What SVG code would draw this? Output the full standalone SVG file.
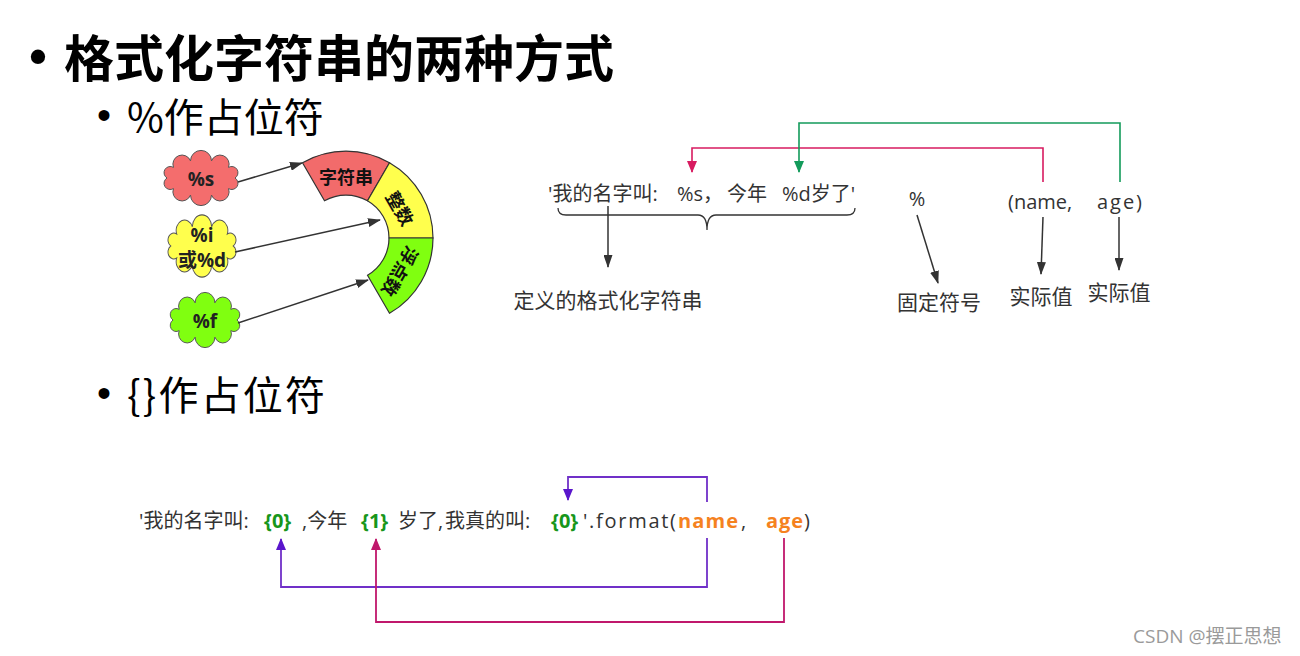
<svg xmlns="http://www.w3.org/2000/svg" width="1300" height="656" viewBox="0 0 1300 656">
<style>
text{font-family:"Open Sans","Noto Sans CJK SC",sans-serif;dominant-baseline:central}
.title{font-size:50px;font-weight:bold;fill:#000;font-family:"Noto Sans CJK SC",sans-serif}
.sub{font-size:40px;fill:#000;font-family:"Noto Sans CJK SC",sans-serif}
.bul{font-family:"Liberation Sans",sans-serif}
.cl{stroke:#555;stroke-width:1;vector-effect:non-scaling-stroke}
.ctext{font-size:19px;font-weight:bold;fill:#222;text-anchor:middle}
.seg{stroke:#333;stroke-width:1.2}
.stext{font-size:18px;font-weight:bold;fill:#111;text-anchor:middle;font-family:"Noto Sans CJK SC",sans-serif}
.code{font-size:20px;fill:#333}
.lbl{font-size:21px;fill:#333;text-anchor:middle}
.g{fill:#17961b;font-weight:bold}
.o{fill:#f5821f;font-weight:bold}
.dk{fill:none;stroke:#333;stroke-width:1.5}
.wm{font-size:19px;fill:#9a9a9a}
</style>
<defs>
<path id="cloud" d="M34 0 A1 1 0 0 1 27.5 10.6 A1 1 0 0 1 10.5 17.1 A1 1 0 0 1 -10.5 17.1 A1 1 0 0 1 -27.5 10.6 A1 1 0 0 1 -34 0 A1 1 0 0 1 -27.5 -10.6 A1 1 0 0 1 -10.5 -17.1 A1 1 0 0 1 10.5 -17.1 A1 1 0 0 1 27.5 -10.6 A1 1 0 0 1 34 0 Z"/>
<marker id="ad" markerUnits="userSpaceOnUse" markerWidth="13" markerHeight="9" refX="12" refY="4.5" orient="auto"><path d="M0 0 L13 4.5 L0 9 z" fill="#333"/></marker>
<marker id="ar" markerUnits="userSpaceOnUse" markerWidth="12" markerHeight="10" refX="11" refY="5" orient="auto"><path d="M0 0 L12 5 L0 10 z" fill="#d81b60"/></marker>
<marker id="ag" markerUnits="userSpaceOnUse" markerWidth="12" markerHeight="10" refX="11" refY="5" orient="auto"><path d="M0 0 L12 5 L0 10 z" fill="#139b5b"/></marker>
<marker id="ap" markerUnits="userSpaceOnUse" markerWidth="12" markerHeight="10" refX="11" refY="5" orient="auto"><path d="M0 0 L12 5 L0 10 z" fill="#5a16cc"/></marker>
<marker id="am" markerUnits="userSpaceOnUse" markerWidth="12" markerHeight="10" refX="11" refY="5" orient="auto"><path d="M0 0 L12 5 L0 10 z" fill="#c0186c"/></marker>
</defs>
<rect width="1300" height="656" fill="#fff"/>

<g id="headings">
<text class="title bul" x="38" y="56" text-anchor="middle" font-size="44">•</text>
<text class="title" x="64" y="55">格式化字符串的两种方式</text>
<text class="sub bul" x="104" y="115" text-anchor="middle" font-size="34">•</text>
<text class="sub" x="127" y="115">%作占位符</text>
<text class="sub bul" x="104" y="393" text-anchor="middle" font-size="34">•</text>
<text class="sub" x="127" y="393" textLength="198" lengthAdjust="spacing">{}作占位符</text>
</g>

<g id="cloud-s">
<use href="#cloud" class="cl" fill="#f46d6d" transform="translate(201,178)"/>
<text class="ctext" x="201" y="179">%s</text>
</g>
<g id="cloud-d">
<use href="#cloud" class="cl" fill="#ffff4d" transform="translate(202,246) scale(0.92,1.13)"/>
<text class="ctext" x="202" y="235">%i</text>
<text class="ctext" x="202" y="260">或%d</text>
</g>
<g id="cloud-f">
<use href="#cloud" class="cl" fill="#80ff10" transform="translate(205,320) scale(0.94,1)"/>
<text class="ctext" x="205" y="321">%f</text>
</g>

<g id="seg-str">
<path class="seg" fill="#f26b6b" d="M302.5 162.7 A87 87 0 0 1 389.5 162.7 L367.5 200.8 A43 43 0 0 0 324.5 200.8 Z"/>
<text class="stext" x="346" y="176">字符串</text>
</g>
<g id="seg-int">
<path class="seg" fill="#ffff4d" d="M389.5 162.7 A87 87 0 0 1 433 238 L389 238 A43 43 0 0 0 367.5 200.8 Z"/>
<text class="stext" transform="translate(401,208) rotate(60)" x="0" y="0">整数</text>
</g>
<g id="seg-float">
<path class="seg" fill="#80ff10" d="M433 238 A87 87 0 0 1 389.5 313.3 L367.5 275.2 A43 43 0 0 0 389 238 Z"/>
<text class="stext" transform="translate(401,272) rotate(120)" x="0" y="0">浮点数</text>
</g>

<g id="fmt-string">
<text class="code" y="193"><tspan x="548">'我的名字叫: </tspan><tspan x="677">%s，</tspan><tspan x="727">今年</tspan><tspan x="782">%d岁了'</tspan></text>
</g>
<g id="label-def"><text class="lbl" x="608" y="300">定义的格式化字符串</text></g>
<g id="percent"><text class="code" x="917" y="198" text-anchor="middle">%</text></g>
<g id="label-fixed"><text class="lbl" x="939" y="302">固定符号</text></g>
<g id="tuple"><text class="code" y="201"><tspan x="1008">(name,</tspan><tspan x="1097" textLength="45" lengthAdjust="spacing">age)</tspan></text></g>
<g id="label-val1"><text class="lbl" x="1041" y="296">实际值</text></g>
<g id="label-val2"><text class="lbl" x="1119" y="292">实际值</text></g>

<g id="format-line">
<text class="code" y="520"><tspan x="139">'我的名字叫: </tspan><tspan x="264" class="g">{0}</tspan><tspan x="302">,今年</tspan><tspan x="361" class="g">{1}</tspan><tspan x="398">岁了,</tspan><tspan x="445">我真的叫: </tspan><tspan x="551" class="g">{0}</tspan><tspan x="583" textLength="93" lengthAdjust="spacing">'.format(</tspan><tspan x="678" class="o" textLength="60" lengthAdjust="spacing">name</tspan><tspan x="741">,</tspan><tspan x="766" class="o" textLength="37" lengthAdjust="spacing">age</tspan><tspan x="804">)</tspan></text>
</g>

<g id="connectors">
<line class="dk" x1="238" y1="182" x2="302" y2="163" marker-end="url(#ad)"/>
<line class="dk" x1="235" y1="252" x2="380" y2="220" marker-end="url(#ad)"/>
<line class="dk" x1="238" y1="323" x2="368" y2="280" marker-end="url(#ad)"/>
<path fill="none" stroke="#333" stroke-width="1.3" d="M558 208 Q558 215 566 215 H698 Q707 215 707 230 Q707 215 716 215 H847 Q855 215 855 208"/>
<line class="dk" x1="608" y1="206" x2="608" y2="267" marker-end="url(#ad)"/>
<line class="dk" x1="917" y1="215" x2="938" y2="283" marker-end="url(#ad)"/>
<line class="dk" x1="1043" y1="217" x2="1041" y2="274" marker-end="url(#ad)"/>
<line class="dk" x1="1119" y1="217" x2="1119" y2="270" marker-end="url(#ad)"/>
<path fill="none" stroke="#d81b60" stroke-width="1.6" d="M1043 182 V148 H692 V172" marker-end="url(#ar)"/>
<path fill="none" stroke="#139b5b" stroke-width="1.6" d="M1120 182 V123 H799 V172" marker-end="url(#ag)"/>
<path fill="none" stroke="#7030c8" stroke-width="1.8" d="M707 538 V587 H281 V539" marker-end="url(#ap)"/>
<path fill="none" stroke="#7030c8" stroke-width="1.8" d="M707 502 V477 H568 V500" marker-end="url(#ap)"/>
<path fill="none" stroke="#c0186c" stroke-width="1.8" d="M784 538 V622 H376 V539" marker-end="url(#am)"/>
</g>

<g id="watermark"><text class="wm" x="1133" y="636">CSDN @摆正思想</text></g>
</svg>
